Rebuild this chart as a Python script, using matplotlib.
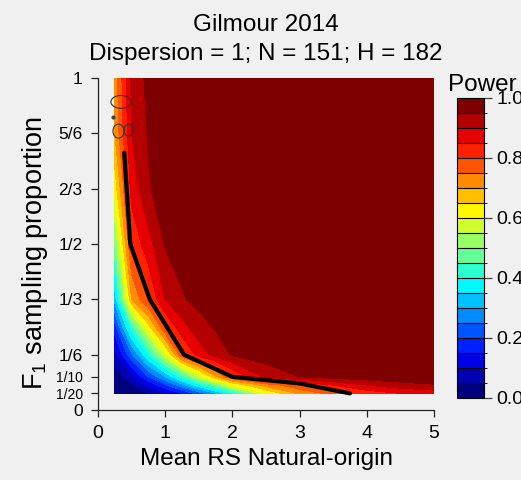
import numpy as np
import matplotlib
matplotlib.use('Agg')
import matplotlib.pyplot as plt
from matplotlib.colors import LinearSegmentedColormap, ListedColormap, BoundaryNorm
from matplotlib.patches import Ellipse

plt.rcParams['font.family'] = ['Liberation Sans', 'DejaVu Sans']
plt.rcParams['mathtext.fontset'] = 'custom'
plt.rcParams['mathtext.rm'] = 'Liberation Sans'
plt.rcParams['mathtext.it'] = 'Liberation Sans:italic'

BG = '#f0f0f0'

# grid of simulated scenarios
rs_natural = [0.25, 0.5, 0.75, 1.0, 1.25, 1.5, 1.75, 2.0, 2.5, 3.0, 3.5, 4.0, 4.5, 5.0]
f1_prop = [0.05, 0.075, 0.1, 1/6, 0.25, 1/3, 1/2, 2/3, 5/6, 1.0]

power = [
    [0.00, 0.01, 0.05, 0.10, 0.15, 0.22, 0.30, 0.40, 0.60, 0.71, 0.77, 0.82, 0.85, 0.87],
    [0.01, 0.04, 0.11, 0.19, 0.28, 0.38, 0.48, 0.60, 0.72, 0.79, 0.85, 0.90, 0.93, 0.945],
    [0.02, 0.08, 0.20, 0.30, 0.42, 0.56, 0.69, 0.80, 0.91, 0.95, 0.97, 0.98, 0.985, 0.99],
    [0.08, 0.24, 0.40, 0.58, 0.79, 0.87, 0.92, 0.955, 0.98, 0.99, 0.995, 0.995, 0.995, 0.995],
    [0.18, 0.43, 0.63, 0.80, 0.88, 0.93, 0.955, 0.97, 0.99, 0.995, 0.995, 0.995, 0.995, 0.995],
    [0.32, 0.70, 0.80, 0.90, 0.945, 0.965, 0.98, 0.99, 0.995, 0.995, 0.995, 0.995, 0.995, 0.995],
    [0.50, 0.81, 0.88, 0.955, 0.97, 0.985, 0.99, 0.995, 0.995, 0.995, 0.995, 0.995, 0.995, 0.995],
    [0.62, 0.87, 0.945, 0.98, 0.99, 0.995, 0.995, 0.995, 0.995, 0.995, 0.995, 0.995, 0.995, 0.995],
    [0.70, 0.90, 0.955, 0.985, 0.99, 0.995, 0.995, 0.995, 0.995, 0.995, 0.995, 0.995, 0.995, 0.995],
    [0.72, 0.91, 0.965, 0.99, 0.995, 0.995, 0.995, 0.995, 0.995, 0.995, 0.995, 0.995, 0.995, 0.995],
]

# sampling proportion needed for 80% power
line_x = [0.39, 0.48, 0.77, 1.28, 2.0, 3.0, 3.75]
line_y = [0.775, 0.5, 1/3, 1/6, 0.1, 0.08, 0.05]

# small stray contour rings in the upper left
ring_x = [0.342, 0.305, 0.454]
ring_y = [0.928, 0.840, 0.843]
ring_w = [0.30, 0.165, 0.135]
ring_h = [0.039, 0.042, 0.036]
dot_x, dot_y = 0.223, 0.883

ytick_vals = [0, 1/20, 1/10, 1/6, 1/3, 1/2, 2/3, 5/6, 1]
ytick_labs = ['0', '1/20', '1/10', '1/6', '1/3', '1/2', '2/3', '5/6', '1']
xtick_vals = [0, 1, 2, 3, 4, 5]
cbar_ticks = [0.0, 0.2, 0.4, 0.6, 0.8, 1.0]

levels = np.linspace(0, 1, 21)
anchors = ['#00007F', 'blue', '#007FFF', 'cyan', '#7FFF7F', 'yellow', '#FF7F00', 'red', '#7F0000']
ramp = LinearSegmentedColormap.from_list('jetramp', anchors)
cmap = ListedColormap([ramp(i / 19) for i in range(20)])
norm = BoundaryNorm(levels, cmap.N)

fig = plt.figure(figsize=(5.21, 4.8), dpi=100, facecolor=BG)
ax = fig.add_axes([98 / 521, 70 / 480, 336 / 521, 332 / 480])
ax.set_facecolor(BG)

cf = ax.contourf(rs_natural, f1_prop, np.array(power), levels=levels, cmap=cmap, norm=norm)
ax.plot(line_x, line_y, color='black', lw=3, solid_capstyle='round', solid_joinstyle='round')

for cx, cy, w, h in zip(ring_x, ring_y, ring_w, ring_h):
    ax.add_patch(Ellipse((cx, cy), w, h, fill=False, ec='#333333', lw=0.8))
ax.plot([dot_x], [dot_y], marker='o', ms=2, color='#444444')

ax.set_xlim(0, 5)
ax.set_ylim(0, 1)
for s in ['top', 'right']:
    ax.spines[s].set_visible(False)
for s in ['left', 'bottom']:
    ax.spines[s].set_linewidth(0.9)
    ax.spines[s].set_color('#222222')

ax.set_xticks(xtick_vals)
ax.set_xticklabels([str(v) for v in xtick_vals])
ax.set_yticks(ytick_vals)
ax.set_yticklabels(ytick_labs)
ax.tick_params(direction='out', length=5, width=0.9, color='#222222')
ax.tick_params(axis='x', labelsize=14, pad=6)
ax.tick_params(axis='y', labelsize=12.5, pad=6)
for lab in ax.get_yticklabels():
    if lab.get_text() in ('1/10', '1/20'):
        lab.set_fontsize(10)

fig.text(266 / 521, 1 - 31 / 480, 'Gilmour 2014', ha='center', va='baseline', fontsize=17.5)
fig.text(266 / 521, 1 - 60 / 480, 'Dispersion = 1; N = 151; H = 182', ha='center', va='baseline', fontsize=17.5)
fig.text(266 / 521, 1 - 465 / 480, 'Mean RS Natural-origin', ha='center', va='baseline', fontsize=17.5)
fig.text(42 / 521, 1 - 253 / 480, r'F$_1$ sampling proportion', ha='center', va='baseline',
         rotation=90, rotation_mode='anchor', fontsize=19.5)

cax = fig.add_axes([457 / 521, 82 / 480, 27 / 521, 300 / 480])
cb = fig.colorbar(cf, cax=cax, ticks=cbar_ticks, drawedges=True)
cb.outline.set_linewidth(0.8)
cb.dividers.set_linewidth(0.8)
cb.dividers.set_color('black')
cax.set_yticklabels(['%.1f' % v for v in cbar_ticks])
cax.tick_params(length=6, width=0.9, color='#444444', labelsize=14, pad=3)
fig.text(482 / 521, 1 - 91 / 480, 'Power', ha='center', va='baseline', fontsize=17.5)

fig.savefig('out.png', dpi=100, facecolor=BG)
